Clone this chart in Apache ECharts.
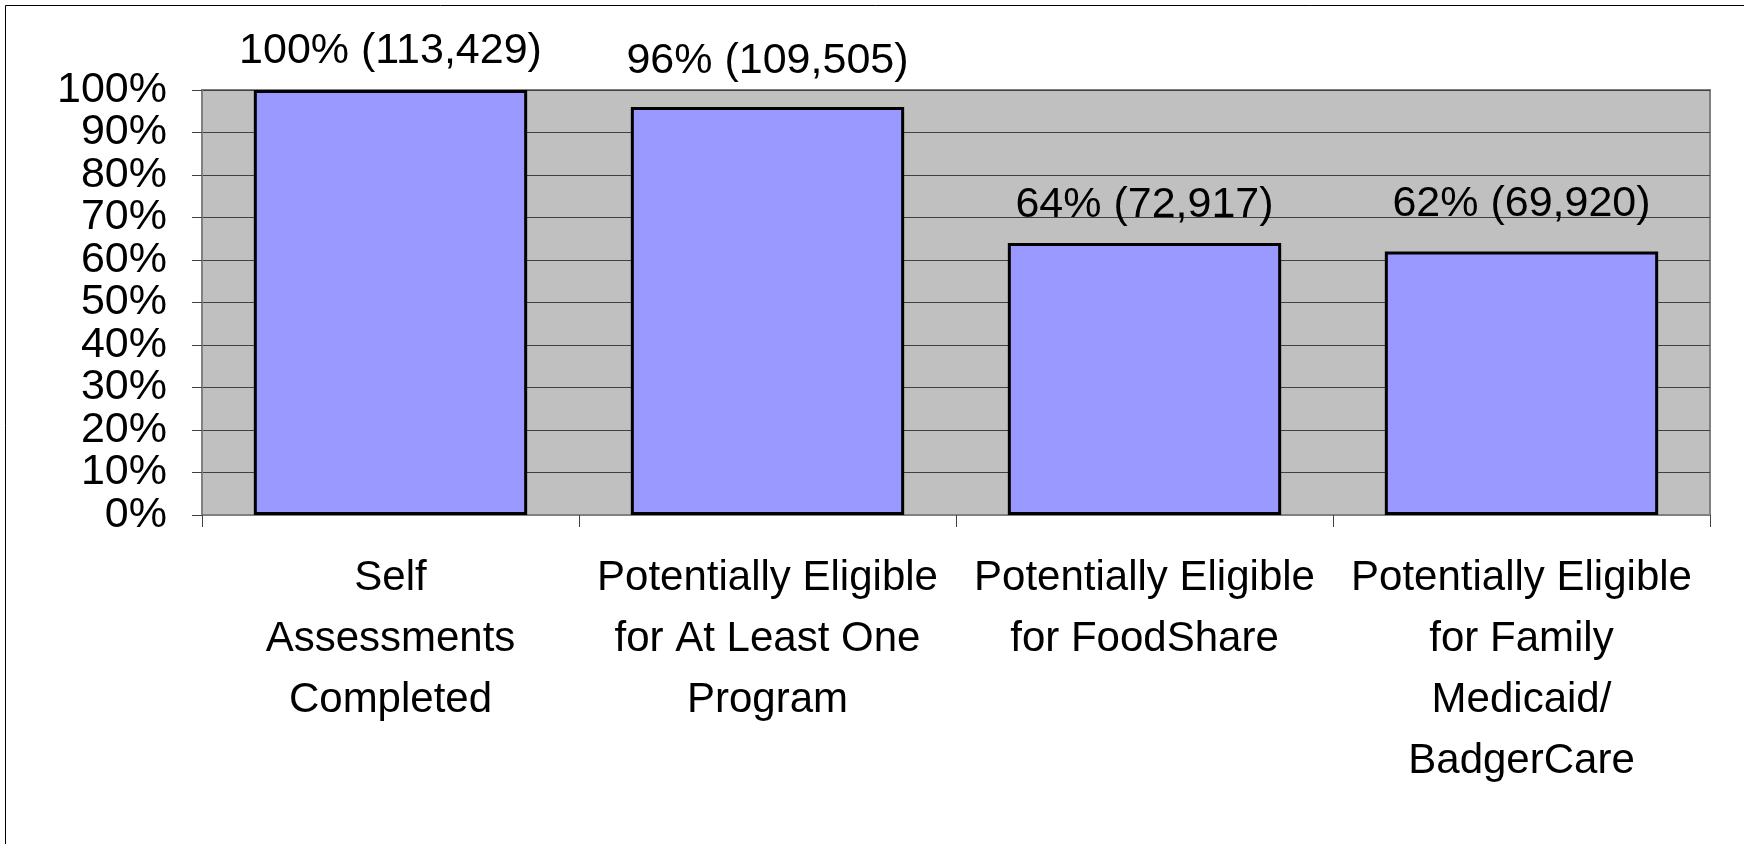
<!DOCTYPE html>
<html>
<head>
<meta charset="utf-8">
<script src="https://cdn.jsdelivr.net/npm/echarts@6/dist/echarts.min.js"></script>
<style>
html,body{margin:0;padding:0;background:#fff;}
#chart{width:1744px;height:844px;}
</style>
</head>
<body>
<div id="chart"></div>
<script>
const categories = [
  "Self\nAssessments\nCompleted",
  "Potentially Eligible\nfor At Least One\nProgram",
  "Potentially Eligible\nfor FoodShare",
  "Potentially Eligible\nfor Family\nMedicaid/\nBadgerCare"
];
const percentValues = [100, 96, 64, 62];
const counts = [113429, 109505, 72917, 69920];
const yTicks = [0, 10, 20, 30, 40, 50, 60, 70, 80, 90, 100];

const FONT = "'Liberation Sans', Arial, sans-serif";
const labelDist = [17, 24, 16, 26];

const chart = echarts.init(document.getElementById('chart'), null, {renderer: 'canvas'});
const option = {
  animation: false,
  backgroundColor: '#ffffff',
  graphic: [{
    type: 'rect',
    shape: {x: 5.5, y: 5.5, width: 1800, height: 900},
    style: {fill: 'none', stroke: '#000', lineWidth: 1},
    silent: true
  }],
  grid: {
    left: 202, right: 34, top: 90, bottom: 329,
    show: true, backgroundColor: '#C0C0C0', borderColor: '#808080', borderWidth: 2
  },
  xAxis: {
    type: 'category',
    data: categories,
    axisLine: {show: true, lineStyle: {color: '#808080', width: 2}},
    axisTick: {show: true, alignWithLabel: false, length: 12, lineStyle: {color: '#404040', width: 1}},
    axisLabel: {
      interval: 0, color: '#000', fontFamily: FONT, fontSize: 42,
      lineHeight: 61, margin: 33, verticalAlign: 'top'
    }
  },
  yAxis: [{
    type: 'value',
    min: 0, max: 100, interval: 10,
    axisLine: {show: true, lineStyle: {color: '#808080', width: 2}},
    axisTick: {show: true, length: 10, lineStyle: {color: '#404040', width: 1}},
    splitLine: {show: true, lineStyle: {color: '#404040', width: 1}},
    axisLabel: {show: false}
  }, {
    type: 'category',
    position: 'left',
    boundaryGap: false,
    data: yTicks.map(function (v) { return v + '%'; }),
    axisLine: {show: false},
    axisTick: {show: false},
    splitLine: {show: false},
    axisLabel: {
      interval: 0, color: '#000', fontFamily: FONT, fontSize: 43, margin: 35
    }
  }],
  series: [{
    type: 'bar',
    yAxisIndex: 0,
    data: percentValues.map(function (v, i) {
      return {value: v, label: {distance: labelDist[i]}};
    }),
    barCategoryGap: '27.5%',
    itemStyle: {color: '#9999FF', borderColor: '#000', borderWidth: 3},
    label: {
      show: true, position: 'top', color: '#000', fontFamily: FONT, fontSize: 43,
      formatter: function (p) {
        return percentValues[p.dataIndex] + '% (' + counts[p.dataIndex].toLocaleString('en-US') + ')';
      }
    }
  }]
};
chart.setOption(option);
</script>
</body>
</html>
